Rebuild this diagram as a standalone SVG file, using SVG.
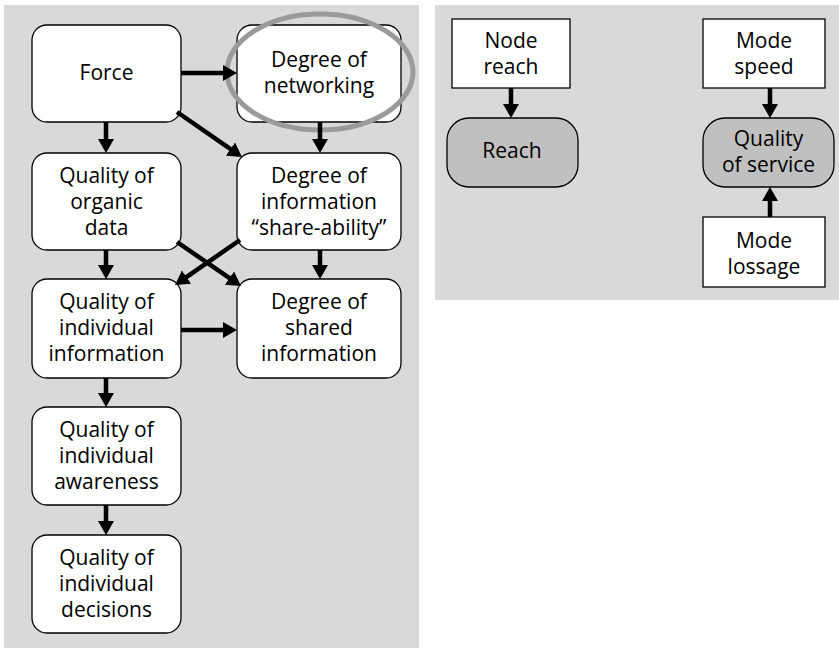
<svg xmlns="http://www.w3.org/2000/svg" width="839" height="649" viewBox="0 0 839 649">
<defs>
<style>
.bg{fill:#d9d9d9;}
.box{fill:#fff;stroke:#000;stroke-width:1.3;}
.gbox{fill:#c0c0c0;stroke:#000;stroke-width:1.3;}
.t{font-family:"Open Sans","Noto Sans","Liberation Sans",sans-serif;font-size:21px;fill:#000;text-anchor:middle;}
.c{stroke:#000;stroke-width:4.5;fill:none;marker-end:url(#ah);}
</style>
<marker id="ah" markerUnits="userSpaceOnUse" markerWidth="14" markerHeight="16" refX="5" refY="8" orient="auto" viewBox="0 0 14 16">
<path d="M0,0 L14,8 L0,16 z" fill="#000"/>
</marker>
</defs>
<rect class="bg" x="4" y="5" width="415" height="643"/>
<rect class="bg" x="435" y="5" width="404" height="295"/>

<g id="force"><rect class="box" x="32" y="25" width="149" height="97" rx="15"/><text class="t" x="106.5" y="80">Force</text></g>
<g id="networking"><rect class="box" x="237" y="25" width="164" height="97" rx="15"/><text class="t" x="319" y="67">Degree of</text><text class="t" x="319" y="93">networking</text></g>
<g id="organic"><rect class="box" x="32" y="153" width="149" height="97" rx="15"/><text class="t" x="106.5" y="183">Quality of</text><text class="t" x="106.5" y="209">organic</text><text class="t" x="106.5" y="235">data</text></g>
<g id="shareability"><rect class="box" x="237" y="153" width="164" height="97" rx="15"/><text class="t" x="319" y="183">Degree of</text><text class="t" x="319" y="209">information</text><text class="t" x="319" y="235">“share-ability”</text></g>
<g id="indinfo"><rect class="box" x="32" y="279" width="149" height="99" rx="15"/><text class="t" x="106.5" y="309">Quality of</text><text class="t" x="106.5" y="335">individual</text><text class="t" x="106.5" y="361">information</text></g>
<g id="shared"><rect class="box" x="237" y="279" width="164" height="99" rx="15"/><text class="t" x="319" y="309">Degree of</text><text class="t" x="319" y="335">shared</text><text class="t" x="319" y="361">information</text></g>
<g id="awareness"><rect class="box" x="32" y="407" width="149" height="98" rx="15"/><text class="t" x="106.5" y="437">Quality of</text><text class="t" x="106.5" y="463">individual</text><text class="t" x="106.5" y="489">awareness</text></g>
<g id="decisions"><rect class="box" x="32" y="535" width="149" height="98" rx="15"/><text class="t" x="106.5" y="565">Quality of</text><text class="t" x="106.5" y="591">individual</text><text class="t" x="106.5" y="617">decisions</text></g>

<g id="nodereach"><rect class="box" x="452" y="19" width="118" height="69"/><text class="t" x="511" y="48">Node</text><text class="t" x="511" y="74">reach</text></g>
<g id="reach"><rect class="gbox" x="447" y="118" width="131" height="69" rx="22"/><text class="t" x="512" y="158">Reach</text></g>
<g id="modespeed"><rect class="box" x="703" y="19" width="122" height="69"/><text class="t" x="764" y="48">Mode</text><text class="t" x="764" y="74">speed</text></g>
<g id="qos"><rect class="gbox" x="703" y="118" width="131" height="69" rx="22"/><text class="t" x="768.5" y="146">Quality</text><text class="t" x="768.5" y="172">of service</text></g>
<g id="modelossage"><rect class="box" x="703" y="217" width="122" height="70"/><text class="t" x="764" y="248">Mode</text><text class="t" x="764" y="274">lossage</text></g>

<ellipse id="highlight" cx="320" cy="72" rx="93" ry="58" fill="none" stroke="#9a9a9a" stroke-width="5"/>

<g id="connectors">
<line class="c" x1="181" y1="73" x2="228" y2="73"/>
<line class="c" x1="106" y1="122" x2="106" y2="144"/>
<line class="c" x1="177" y1="112" x2="234.6" y2="151.9"/>
<line class="c" x1="320" y1="122" x2="320" y2="144"/>
<line class="c" x1="106" y1="250" x2="106" y2="270"/>
<line class="c" x1="320" y1="250" x2="320" y2="270"/>
<line class="c" x1="177" y1="242" x2="233.6" y2="280.9"/>
<line class="c" x1="240" y1="240" x2="182.4" y2="279.9"/>
<line class="c" x1="181" y1="330" x2="228" y2="330"/>
<line class="c" x1="106" y1="378" x2="106" y2="398"/>
<line class="c" x1="106" y1="505" x2="106" y2="526"/>
<line class="c" x1="511" y1="88" x2="511" y2="109"/>
<line class="c" x1="770" y1="88" x2="770" y2="109"/>
<line class="c" x1="770" y1="217" x2="770" y2="196"/>
</g>
</svg>
